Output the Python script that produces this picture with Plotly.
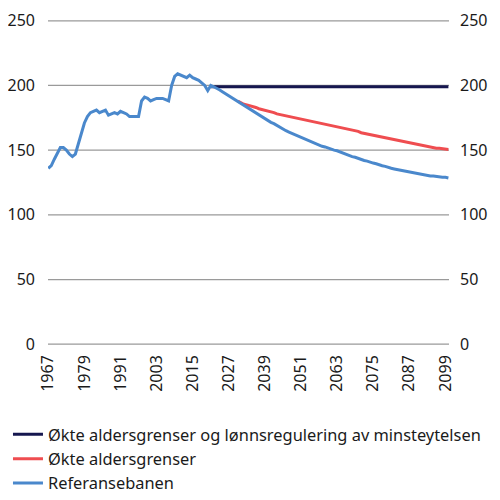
import plotly.graph_objects as go

# Referansebanen, 1967-2100
years = list(range(1967, 2101))
referanse = [
    136, 138, 143, 148, 152, 152, 150, 147, 145, 147,   # 1967-1976
    155, 165, 171, 176, 179, 180, 181, 179, 180, 181,   # 1977-1986
    177, 178, 179, 178, 180, 179, 178, 176, 176, 176,   # 1987-1996
    176, 188, 191, 190, 188, 189, 190, 190, 190, 189,   # 1997-2006
    188, 200, 207, 209, 208, 207, 206, 208, 206, 205,   # 2007-2016
    204, 202, 200, 196, 200, 199, 198, 196.5, 195, 193.5,  # 2017-2026
    192, 190.5, 189.5, 188, 186.5, 185, 183.5, 182, 180, 178.5,  # 2027-2036
    177, 175.5, 174, 173, 171.5, 170.5, 169, 167.5, 166.5, 165,  # 2037-2046
    164, 163, 161.5, 160.5, 159.5, 158.5, 157.5, 156.5, 156, 155,  # 2047-2056
    154, 153, 152.5, 151.5, 151, 150, 149.5, 148.5, 147.5, 146.5,  # 2057-2066
    146, 145, 144.5, 143.5, 143, 142, 141.5, 140.5, 140, 139.5,  # 2067-2076
    138.5, 138, 137.5, 136.5, 136, 135.5, 135, 134.5, 134, 133.5,  # 2077-2086
    133, 132.5, 132, 131.5, 131.5, 131, 130.5, 130, 130, 129.5,  # 2087-2096
    129.5, 129, 129, 128.5,                               # 2097-2100
]

# Økte aldersgrenser, 2030-2100
alder_years = list(range(2030, 2101))
alder = [
    188, 186.5, 185.5, 185, 184.5, 183.5, 183, 182, 181.5, 181,  # 2030-2039
    180, 179.5, 179, 178, 177.5, 177, 176.5, 176.5, 176, 175.5,  # 2040-2049
    175, 174.5, 174, 173.5, 173, 172.5, 172, 171.5, 171, 170.5,  # 2050-2059
    170, 169.5, 169, 168.5, 168, 167.5, 167, 166.5, 165.5, 165,  # 2060-2069
    164.5, 163.5, 163, 162.5, 162, 161.5, 161, 160.5, 160, 159.5,  # 2070-2079
    159, 158.5, 158, 157.5, 157, 156.5, 156, 155.5, 155, 154.5,  # 2080-2089
    154, 153.5, 153.5, 153, 152.5, 152, 151.5, 151.5, 151, 150.5,  # 2090-2099
    150.5,                                                # 2100
]

# Økte aldersgrenser og lønnsregulering av minsteytelsen, 2021-2100
lonn_years = list(range(2021, 2101))
lonn = [199] * len(lonn_years)

tick_years = list(range(1967, 2100, 12))
y_ticks = [0, 50, 100, 150, 200, 250]
navn = ['Økte aldersgrenser og lønnsregulering av minsteytelsen',
        'Økte aldersgrenser',
        'Referansebanen']
farger = ['#16174f', '#ef4d50', '#4a88cc']

font = 'Noto Sans'

fig = go.Figure()
# usynlig kopi for å få med høyre akse
fig.add_trace(go.Scatter(x=lonn_years, y=lonn, yaxis='y2', mode='lines',
                         line=dict(color='rgba(0,0,0,0)'), showlegend=False,
                         hoverinfo='skip'))
fig.add_trace(go.Scatter(x=lonn_years, y=lonn, mode='lines', name=navn[0],
                         line=dict(color=farger[0], width=3)))
fig.add_trace(go.Scatter(x=alder_years, y=alder, mode='lines', name=navn[1],
                         line=dict(color=farger[1], width=3)))
fig.add_trace(go.Scatter(x=years, y=referanse, mode='lines', name=navn[2],
                         line=dict(color=farger[2], width=3)))

# gridlinjer som horisontale streker
for v in y_ticks:
    fig.add_hline(y=v, line=dict(color='#9a9a9a', width=1.2), layer='below')

# siden har 8px marg rundt figuren
fig.update_layout(
    template='none',
    width=492, height=492,
    paper_bgcolor='white', plot_bgcolor='white',
    margin=dict(l=40, r=51, t=12, b=155, autoexpand=False),
    font=dict(family=font, size=16, color='#1a1a1a'),
    showlegend=True,
    legend=dict(x=-0.0998, y=-0.222,
                xanchor='left', yanchor='top', traceorder='normal',
                font=dict(size=16.4), itemwidth=30, tracegroupgap=0,
                bgcolor='rgba(0,0,0,0)'),
    xaxis=dict(range=[1966.9, 2100.2], tickvals=tick_years,
               tickangle=-90, showgrid=False, zeroline=False,
               showline=False, ticks='', ticklabelstandoff=6),
    yaxis=dict(range=[-0.6, 250.6], tickvals=y_ticks,
               showgrid=False, zeroline=False, showline=False, ticks='',
               ticklabelstandoff=12),
    yaxis2=dict(range=[-0.6, 250.6], tickvals=y_ticks,
                overlaying='y', side='right',
                showgrid=False, zeroline=False, showline=False, ticks='',
                ticklabelstandoff=10),
)

fig.write_html('out.html')
